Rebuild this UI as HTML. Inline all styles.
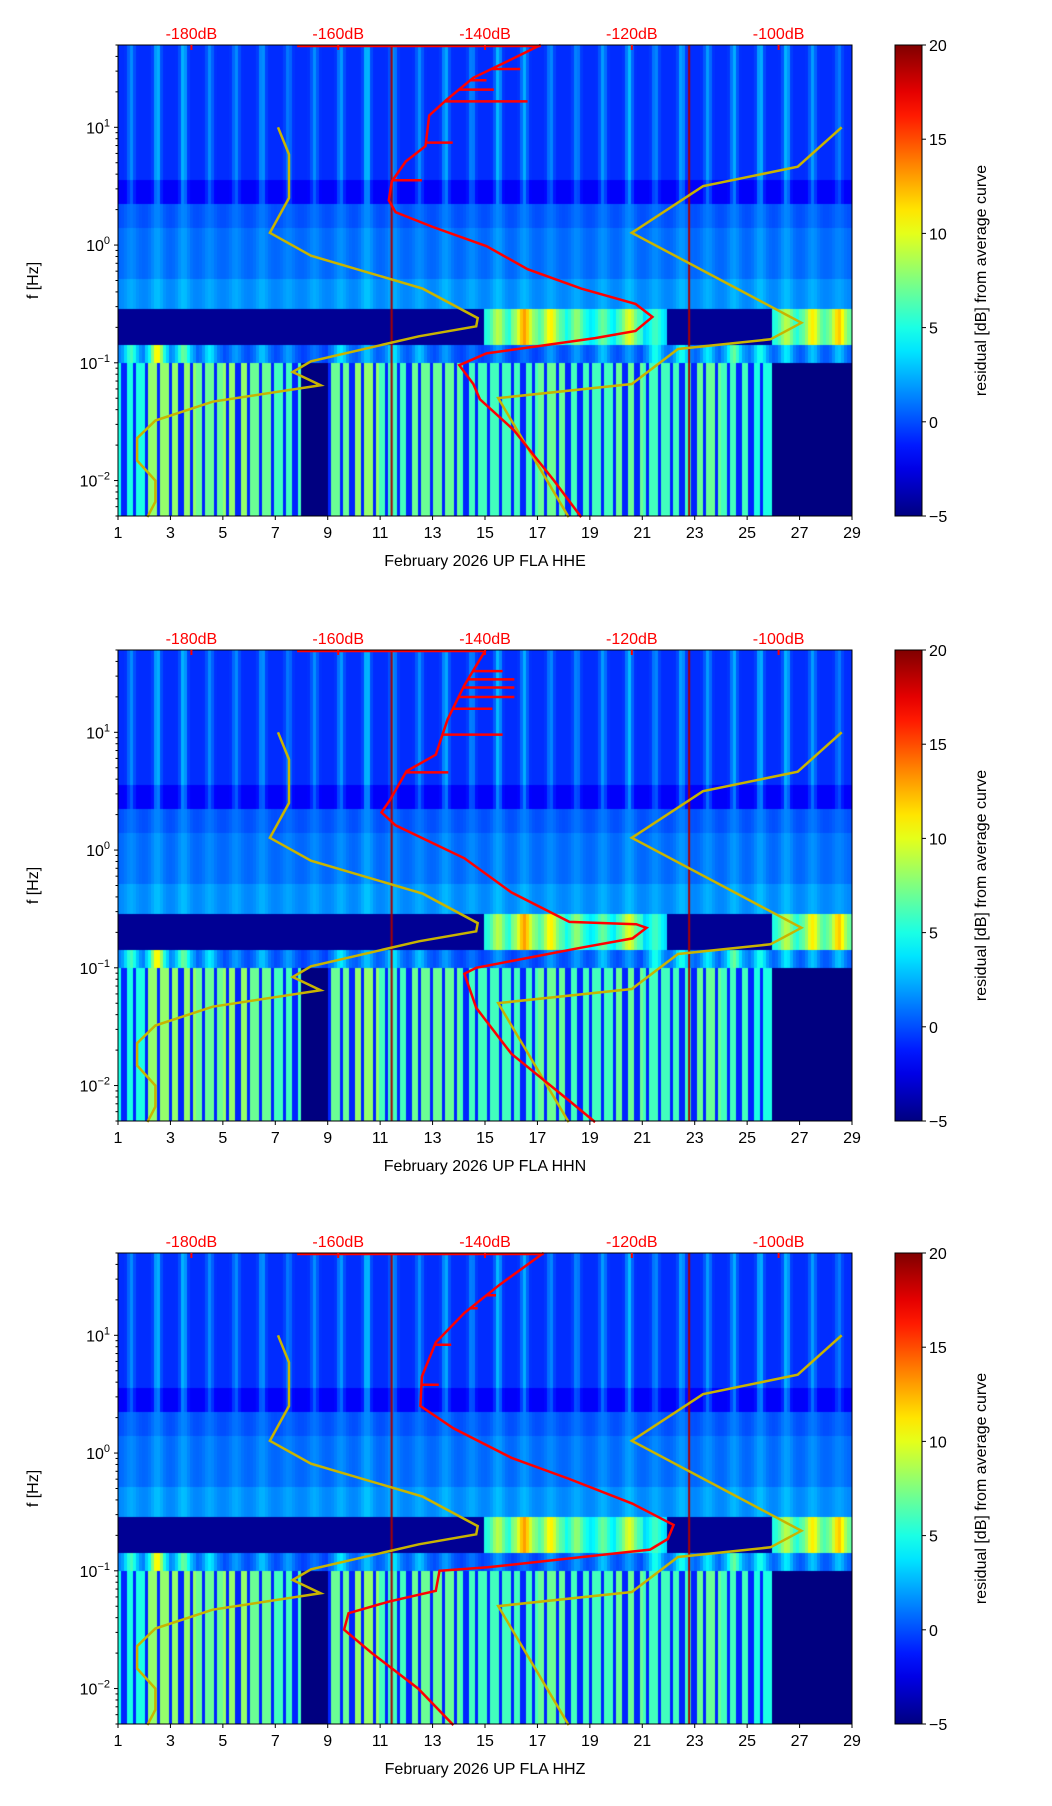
<!DOCTYPE html>
<html><head><meta charset="utf-8">
<style>
body{margin:0;background:#fff;}
#root{position:relative;width:1052px;height:1806px;overflow:hidden;background:#fff;font-family:"Liberation Sans","DejaVu Sans",sans-serif;}
canvas{position:absolute;}
svg{position:absolute;left:0;top:0;}
</style></head>
<body>
<div id="root">
<svg id="svg" width="1052" height="1806"></svg>
</div>
<script>
// ---- data arrays ----
const dayTicks = [1,3,5,7,9,11,13,15,17,19,21,23,25,27,29];
const dbTicks = [-180,-160,-140,-120,-100];
const freqTickExp = [1,0,-1,-2];
const cbTicks = [-5,0,5,10,15,20];
const channels = ["HHE","HHN","HHZ"];
// heatmap day profiles (28 days)
const dayHigh = [0.6,0.9,0.9,0.6,0.6,0.7,0.5,0.6,0.7,1.0,0.7,0.6,0.8,0.6,0.9,0.8,0.6,0.6,0.7,0.9,0.6,0.8,0.7,0.8,0.9,0.9,0.7,0.5];
const dayMid = [-4,-4,-4,-4,-4,-4,-4,-3,-4,-4,-3,-3,-3,-2,9,13,11,8,7,10,6,-3,-4,-4,-3,9,11,12];
const dayBand = [7,12,8,5,3,4,3,2,5,4,5,4,3,2,3,2,3,3,4,3,6,6,5,8,6,5,4,4];
const dayLow = [5,8,8,7,8,7,6,-5,7,8,6,7,7,6,6,6,7,6,6,7,6,6,7,6,5,-5,-5,-5];
const redLines = [11.4, 22.75];
// NLNM / NHNM (log10 f, dB)
const nlnmLogf = [1.0,0.77,0.40,0.104,-0.09,-0.37,-0.62,-0.69,-0.775,-0.987,-1.078,-1.19,-1.33,-1.49,-1.64,-1.83,-2.0,-2.18,-2.31];
const nlnmDb = [-168.2,-166.7,-166.7,-169.3,-163.7,-148.5,-141.0,-141.2,-149.0,-163.7,-166.2,-162.4,-177.1,-184.9,-187.4,-187.4,-184.9,-184.9,-186.0];
const nhnmLogf = [1.0,0.665,0.50,0.104,-0.66,-0.80,-0.883,-1.18,-1.30,-2.31];
const nhnmDb = [-91.4,-97.4,-110.3,-120.0,-96.9,-101.1,-113.7,-120.0,-138.2,-128.6];
// red median curves per channel
const redLogf1 = [1.70,1.586,1.42,1.23,1.10,0.84,0.71,0.54,0.38,0.28,0.153,-0.01,-0.205,-0.37,-0.5,-0.61,-0.73,-0.79,-0.92,-1.02,-1.18,-1.31,-1.57,-2.0,-2.31];
const redDb1 = [-132.4,-136.1,-141.6,-145.3,-147.6,-148.1,-150.8,-152.7,-153.1,-152.2,-147.1,-139.8,-134.2,-126.9,-119.5,-117.2,-119.5,-125,-139.8,-143.5,-141.6,-140.7,-136.1,-130.6,-126.9];
const redLogf2 = [1.70,1.40,1.11,0.81,0.67,0.42,0.32,0.21,-0.07,-0.36,-0.61,-0.63,-0.66,-0.75,-0.83,-1.0,-1.05,-1.34,-1.73,-2.13,-2.31];
const redDb2 = [-139.9,-142.8,-145.1,-146.7,-150.7,-153.0,-154.1,-152.2,-142.8,-136.4,-128.5,-119.4,-118,-119.9,-127,-141.2,-142.8,-141.2,-136.4,-128.5,-125];
const redLogf3 = [1.70,1.43,1.19,0.94,0.65,0.40,0.21,-0.04,-0.22,-0.43,-0.61,-0.73,-0.82,-0.97,-1.0,-1.17,-1.26,-1.36,-1.5,-1.7,-2.0,-2.31];
const redDb3 = [-132,-138,-142.8,-146.7,-148.6,-148.8,-144.3,-136.4,-128.5,-119.9,-114.3,-115.1,-117.5,-139.6,-146.2,-146.7,-153,-158.6,-159.2,-155.4,-149.1,-144.3];
const spikeLogf1 = [1.495,1.40,1.32,1.22,0.87,0.55];
const spikeDb1 = [-135.2,-139.8,-138.8,-134.2,-144.4,-148.6];
const spikeLogf2 = [1.52,1.45,1.38,1.30,1.20,0.98,0.66];
const spikeDb2 = [-137.6,-136.0,-136.0,-136.0,-139.0,-137.6,-145.0];
const spikeLogf3 = [1.34,1.23,0.92,0.58];
const spikeDb3 = [-138.5,-141.0,-144.6,-146.3];
const redSets = [[redLogf1,redDb1,spikeLogf1,spikeDb1],[redLogf2,redDb2,spikeLogf2,spikeDb2],[redLogf3,redDb3,spikeLogf3,spikeDb3]];

// ---- layout ----
const L=118, W=734, H=471;
const tops=[45,650,1253];
const CBX=895, CBW=27;
const FMAX=Math.log10(50), FMIN=Math.log10(0.005);
const NS="http://www.w3.org/2000/svg";
const svg=document.getElementById('svg');
const root=document.getElementById('root');

function jet(v){
  let x=(v+5)/25; x=Math.max(0,Math.min(1,x));
  const r=Math.max(0,Math.min(1,Math.min(4*x-1.5,-4*x+4.5)));
  const g=Math.max(0,Math.min(1,Math.min(4*x-0.5,-4*x+3.5)));
  const b=Math.max(0,Math.min(1,Math.min(4*x+0.5,-4*x+2.5)));
  return 'rgb('+Math.round(r*255)+','+Math.round(g*255)+','+Math.round(b*255)+')';
}
function val(t,Lf){
  const d=Math.max(0,Math.min(27,Math.floor(t-1)));
  const fr=(t-1)-Math.floor(t-1);
  const st=Math.exp(-Math.pow((fr-0.5)/0.13,2));
  const wide=Math.exp(-Math.pow((fr-0.5)/0.25,2));
  if(Lf>0.35){let v=-0.8+dayHigh[d]*4*st; if(Lf<0.55) v-=1.2; return v;}
  if(Lf>-0.55){return 0.6+1.6*wide*dayHigh[d]+(Lf<-0.3?0.8:0)+(Lf>0.15?-0.6:0);}
  if(Lf>-0.85){return dayMid[d]>0? dayMid[d]*(0.55+0.45*wide) : -4.5;}
  if(Lf>-1.0){return dayBand[d]*(0.3+0.7*wide)-1;}
  if(dayLow[d]<0) return -5;
  const ph=(t*2.3)-Math.floor(t*2.3);
  return ph<0.65? dayLow[d] : -1;
}
function el(tag,attrs,parent){const e=document.createElementNS(NS,tag);for(const k in attrs)e.setAttribute(k,attrs[k]);(parent||svg).appendChild(e);return e;}
function pathOf(xs,ys){return xs.map((x,i)=>(i?'L':'M')+x.toFixed(1)+' '+ys[i].toFixed(1)).join(' ');}
function interp(lf,arrL,arrD){for(let i=0;i<arrL.length-1;i++){if(lf<=arrL[i]&&lf>=arrL[i+1]){const u=(lf-arrL[i])/(arrL[i+1]-arrL[i]);return arrD[i]+u*(arrD[i+1]-arrD[i]);}}return arrD[0];}

tops.forEach((T,p)=>{
  const xDay=t=>L+(t-1)/28*W;
  const xDb=db=>L+(db+190)/100*W;
  const yF=lf=>T+(FMAX-lf)/(FMAX-FMIN)*H;
  const cv=document.createElement('canvas');
  cv.width=W;cv.height=H;cv.style.left=L+'px';cv.style.top=T+'px';
  
  
  root.insertBefore(cv,svg);
  const c=cv.getContext('2d');
  const cs=3;
  for(let px=0;px<W;px+=cs){
    const t=1+(px+1.5)/W*28;
    for(let py=0;py<H;py+=cs){
      const lf=FMAX-(py+1.5)/H*(FMAX-FMIN);
      c.fillStyle=jet(val(t,lf));c.fillRect(px,py,cs,cs);
    }
  }
  redLines.forEach(d=>{c.fillStyle='rgb(170,0,0)';c.fillRect(xDay(d)-L,0,2,H);});
  const g=el('g',{});
  el('path',{d:pathOf(nlnmDb.map(xDb),nlnmLogf.map(yF)),fill:'none',stroke:'#c8b400','stroke-width':2.5,},g);
  el('path',{d:pathOf(nhnmDb.map(xDb),nhnmLogf.map(yF)),fill:'none',stroke:'#c8b400','stroke-width':2.5,},g);
  const [rl,rd,sl,sd]=redSets[p];
  el('path',{d:pathOf(rd.map(xDb),rl.map(yF)),fill:'none',stroke:'#ff0000','stroke-width':2.5,},g);
  sl.forEach((lf,i)=>{const x0=xDb(interp(lf,rl,rd));
    el('line',{x1:x0,x2:xDb(sd[i]),y1:yF(lf),y2:yF(lf),stroke:'#ff0000','stroke-width':2.5,},g);});
  el('line',{x1:xDb(-165.6),x2:xDb(rd[0]),y1:T+1,y2:T+1,stroke:'#ff0000','stroke-width':2.5,},g);
  el('rect',{x:L,y:T,width:W,height:H,fill:'none',stroke:'#000','stroke-width':1,},g);
  dayTicks.forEach(d=>{const x=xDay(d);
    el('line',{x1:x,x2:x,y1:T+H,y2:T+H+4,stroke:'#000',},g);
    const tx=el('text',{x:x,y:T+H+22,'text-anchor':'middle','font-size':16,fill:'#000',},g);tx.textContent=d;});
  const xl=el('text',{x:L+W/2,y:T+H+50,'text-anchor':'middle','font-size':16,fill:'#000',},g);
  xl.textContent='February 2026 UP FLA  '+channels[p];
  dbTicks.forEach(db=>{const x=xDb(db);
    el('line',{x1:x,x2:x,y1:T,y2:T+5,stroke:'#ff0000','stroke-width':2,},g);
    const tx=el('text',{x:x,y:T-6,'text-anchor':'middle','font-size':16,fill:'#ff0000',},g);tx.textContent=db+'dB';});
  for(let e=-3;e<=1;e++){for(let m=1;m<10;m++){const lf=e+Math.log10(m);if(lf>FMAX||lf<FMIN)continue;
    const x2=m===1?L-4:L-2.5;
    el('line',{x1:L,x2:x2,y1:yF(lf),y2:yF(lf),stroke:'#000',},g);}}
  freqTickExp.forEach(e=>{const y=yF(e);
    const tx=el('text',{x:L-8,y:y+6,'text-anchor':'end','font-size':16,fill:'#000',},g);
    const a=document.createElementNS(NS,'tspan');a.textContent='10';tx.appendChild(a);
    const b=document.createElementNS(NS,'tspan');b.setAttribute('dy','-7');b.setAttribute('font-size','11');b.textContent=(e<0?'\u2212':'')+Math.abs(e);tx.appendChild(b);});
  const yl=el('text',{x:0,y:0,transform:'translate(38,'+(T+H/2)+') rotate(-90)','text-anchor':'middle','font-size':16,fill:'#000',},g);
  yl.textContent='f [Hz]';
  const gid='jetg'+p;
  const defs=el('defs',{},g);
  const lg=el('linearGradient',{id:gid,x1:0,y1:1,x2:0,y2:0},defs);
  for(let i=0;i<=20;i++){el('stop',{offset:i/20,'stop-color':jet(-5+25*i/20)},lg);}
  el('rect',{x:CBX,y:T,width:CBW,height:H,fill:'url(#'+gid+')',stroke:'#000','stroke-width':1,},g);
  cbTicks.forEach(v=>{const y=T+H-(v+5)/25*H;
    el('line',{x1:CBX+CBW,x2:CBX+CBW+4,y1:y,y2:y,stroke:'#000',},g);
    const tx=el('text',{x:CBX+CBW+7,y:y+6,'font-size':16,fill:'#000',},g);tx.textContent=(v<0?'\u2212':'')+Math.abs(v);});
  const cl=el('text',{x:0,y:0,transform:'translate(986,'+(T+H/2)+') rotate(-90)','text-anchor':'middle','font-size':16,fill:'#000',},g);
  cl.textContent='residual [dB] from average curve';
});
</script>
</body></html>
